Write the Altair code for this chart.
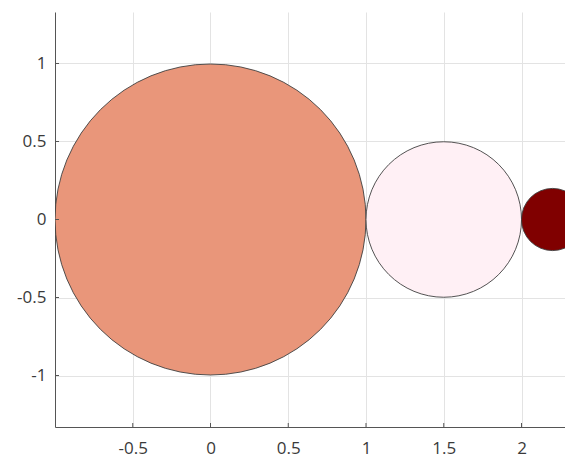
import altair as alt
import pandas as pd

# circle data: centre x, centre y, radius
names = ["A", "B", "C"]
cx = [0.0, 1.5, 2.2]
cy = [0.0, 0.0, 0.0]
radius = [1.0, 0.5, 0.2]
fills = ["#E9967A", "#FFF0F5", "#800000"]

x_ticks = [-0.5, 0, 0.5, 1, 1.5, 2]
y_ticks = [-1, -0.5, 0, 0.5, 1]

df = pd.DataFrame({"name": names, "cx": cx, "cy": cy, "r": radius})
xt = pd.DataFrame({"v": x_ticks})
yt = pd.DataFrame({"v": y_ticks})

W, H = 510, 415
px_per_unit = 155.5
x_dom = [-1.0, -1.0 + W / px_per_unit]
y_dom = [-1.33, 1.33]

font = "Open Sans"
lab = "'' + datum.value"

common = dict(title=None, grid=True, gridColor="#e3e3e3", domainColor="#555555",
              tickSize=0, labelFont=font, labelFontSize=17, labelColor="#3a3a3a",
              labelFlush=False, labelExpr=lab)

xs = alt.Scale(domain=x_dom, nice=False, zero=False)
ys = alt.Scale(domain=y_dom, nice=False, zero=False)

circles = alt.Chart(df).mark_point(
    shape="circle", filled=True, opacity=1, stroke="#404040",
    strokeWidth=0.9, clip=True
).encode(
    x=alt.X("cx:Q", scale=xs, axis=alt.Axis(values=x_ticks, labelPadding=13, **common)),
    y=alt.Y("cy:Q", scale=ys, axis=alt.Axis(values=y_ticks, labelPadding=9, **common)),
    size=alt.Size("r:Q", scale=alt.Scale(type="pow", exponent=2, domain=[0, 1],
                                          range=[0, (2 * px_per_unit) ** 2]), legend=None),
    fill=alt.Fill("name:N", scale=alt.Scale(domain=names, range=fills), legend=None),
)

xticks = alt.Chart(xt).mark_rule(color="#555555", strokeWidth=1).encode(
    x=alt.X("v:Q", scale=xs), y=alt.value(H), y2=alt.value(H - 4)
)
yticks = alt.Chart(yt).mark_rule(color="#555555", strokeWidth=1).encode(
    y=alt.Y("v:Q", scale=ys), x=alt.value(0), x2=alt.value(4)
)

chart = alt.layer(circles, xticks, yticks).properties(
    width=W, height=H,
    autosize=alt.AutoSizeParams(type="none"),
    padding={"left": 47, "top": 4, "right": 0, "bottom": 30},
).configure_view(stroke=None)

chart.save("out.html", embed_options={"renderer": "svg", "actions": False})
